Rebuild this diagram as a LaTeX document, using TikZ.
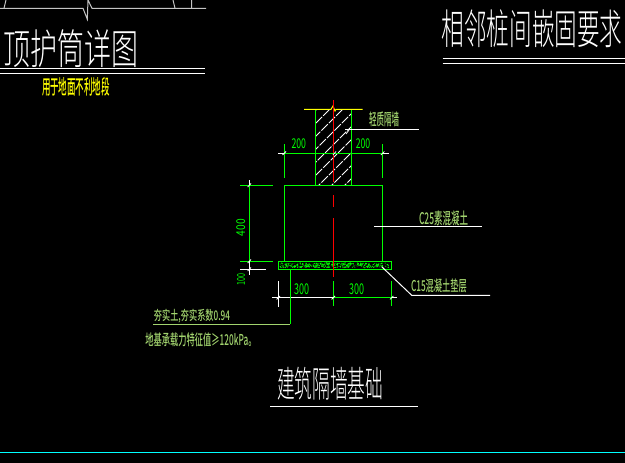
\documentclass[tikz,border=0pt]{standalone}
\usepackage{fontspec}
\newfontfamily\cjkbig{Noto Sans CJK SC Light}
\newfontfamily\cjk{Noto Sans CJK SC Medium}
\newfontfamily\cjknum{Noto Sans CJK SC}
\usetikzlibrary{calc}
\definecolor{cadgreen}{HTML}{00FF00}
\definecolor{paletext}{HTML}{A2D46E}
\definecolor{cadgrey}{HTML}{C4C4C4}
\definecolor{cadyellow}{HTML}{FFFF00}
\definecolor{cadcyan}{HTML}{00FFFF}
\definecolor{cadred}{HTML}{FF0000}
\newcommand{\fit}[3]{\resizebox*{#1pt}{#2pt}{\cjk #3}}
\newcommand{\fitnum}[3]{\resizebox*{#1pt}{#2pt}{\cjknum #3}}
\newcommand{\fitbig}[3]{\resizebox*{#1pt}{#2pt}{\cjkbig #3}}
\tikzset{
  lbl/.style={inner sep=0pt,outer sep=0pt,anchor=center},
  gl/.style={cadgreen,line width=1pt},
  wl/.style={white,line width=1pt},
  tick/.style={white,line width=.8pt},
}
\begin{document}
\begin{tikzpicture}[x=1pt,y=-1pt]
\fill[black] (0,0) rectangle (625,463);
\useasboundingbox (0,0) rectangle (625,463);
% top-left sheet fragment
\draw[cadgrey,line width=1pt] (0,8.3) -- (83,8.3) -- (87.3,19.3) -- (88,0) -- (92,8.3) -- (206,8.3);
\draw[cadgrey,line width=1pt] (6,0) -- (4,8.3) (173,0) -- (175,8.3) (191.7,0) -- (191.7,8.3);
% titles
\node[lbl,white] (t1) at (71,49) {\fitbig{135}{38}{顶护筒详图}};
\draw[wl] (0,68.3) -- (205,68.3) (0,73.3) -- (205,73.3);
\node[lbl,cadyellow] (t2) at (76,86.5) {\fit{68}{19}{用于地面不利地段}};
\node[lbl,white] (t3) at (532,29) {\fitbig{181}{38}{相邻桩间嵌固要求}};
\draw[wl] (442.7,58.3) -- (625,58.3) (442.7,63.3) -- (625,63.3);
% wall hatch
\begin{scope}
\clip (315.3,109.3) rectangle (351.3,185.3);
\foreach \k in {0,...,9}{
  \draw[white,line width=.8pt,dash pattern=on 9pt off 1.5pt] ($(236+\k*13,190)$) -- ++(110,-110);
}
\end{scope}
% wall and footing
\draw[gl] (315.3,109.3) -- (315.3,185.3) (351.3,109.3) -- (351.3,185.3);
\draw[cadyellow,line width=1pt] (304,109.3) -- (331,109.3) -- (333,106) -- (335,111) -- (336,109.3) -- (362.7,109.3);
\draw[gl] (284.3,261.3) -- (284.3,185.3) -- (382.7,185.3) -- (382.7,261.3);
% pad
\pgfmathsetseed{7}
\foreach \i in {1,...,330}{
  \pgfmathsetmacro{\px}{280+109*rnd}
  \pgfmathsetmacro{\py}{263+4.6*rnd}
  \pgfmathsetmacro{\dx}{2.4*rnd-1.2}
  \pgfmathsetmacro{\dy}{1.6*rnd-.8}
  \draw[cadgreen,line width=.9pt] (\px,\py) -- ++(\dx,\dy);
}
\draw[gl] (278.3,261.3) rectangle (391.7,269.3);
% centre line
\draw[cadred,line width=1pt] (333.3,100) -- (333.3,182) (333.3,195) -- (333.3,207) (333.3,218) -- (333.3,277);
% top dimension
\draw[gl] (284.3,144) -- (284.3,178) (382.7,144) -- (382.7,178) (284.3,153.3) -- (382.7,153.3);
\draw[wl] (278,153.3) -- (284.3,153.3) (382.7,153.3) -- (389,153.3);
\draw[tick] (282.5,155) -- (286,151.5) (380.9,155) -- (384.4,151.5) (333,155) -- (336,151.5);
\node[lbl,cadgreen] (d1) at (298.8,144) {\fitnum{14.5}{10}{200}};
\node[lbl,cadgreen] (d2) at (363,144) {\fitnum{14.5}{10}{200}};
% wall label
\node[lbl,paletext] (l1) at (384,119.3) {\fit{30}{15}{轻质隔墙}};
\draw[wl] (345,129.3) -- (419,129.3);
\draw[tick] (346,134) -- (349,130);
% left dimension
\draw[gl] (240,185.3) -- (272.7,185.3) (240,261.3) -- (272.7,261.3) (249.3,185.3) -- (249.3,261.3);
\draw[wl] (240,269.3) -- (266,269.3) (249.3,180) -- (249.3,185.3) (249.3,261.3) -- (249.3,275);
\draw[tick] (247.7,187) -- (251,183.5) (247.7,263) -- (251,259.5) (247.7,271) -- (251,267.5);
\node[lbl,cadgreen,rotate=90] (d3) at (240.7,227.5) {\fitnum{17}{9}{400}};
\node[lbl,cadgreen,rotate=90] (d4) at (241,279.5) {\fitnum{12}{8}{100}};
% bottom dimension
\draw[wl] (272,297.7) -- (333.3,297.7) (278.3,281) -- (278.3,306.7) (391.7,297.7) -- (396.7,297.7);
\draw[gl] (333.3,297.7) -- (391.7,297.7) (333.3,281) -- (333.3,306) (391.7,281) -- (391.7,306);
\draw[tick] (276.6,299.4) -- (280,296) (331.6,299.4) -- (335,296) (390,299.4) -- (393.4,296);
\node[lbl,cadgreen] (d5) at (301.7,289) {\fitnum{15}{11}{300}};
\node[lbl,cadgreen] (d6) at (356.7,289) {\fitnum{15}{11}{300}};
% C25 / C15 labels
\node[lbl,paletext] (l2) at (443.5,218) {\fit{49}{15}{C25素混凝土}};
\draw[wl] (374,226) -- (481.7,226);
\node[lbl,paletext] (l3) at (439,286) {\fit{56}{14}{C15混凝土垫层}};
\draw[wl] (381.7,266.7) -- (411.7,295.3) -- (490,295.3);
% leader
\draw[gl] (290.3,269.3) -- (290.3,324.3);
\draw[paletext,line width=1pt] (153.3,324.3) -- (290.3,324.3);
\node[lbl,paletext] (l4) at (192,316) {\fit{76}{14}{夯实土,夯实系数0.94}};
\node[lbl,paletext] (l5) at (201,340) {\fit{111}{14}{地基承载力特征值≥120kPa。}};
% drawing title
\node[lbl,white] (t4) at (330,384) {\fitbig{106}{33}{建筑隔墙基础}};
\draw[wl] (270,406.7) -- (417.7,406.7);
\draw[cadcyan,line width=1pt] (0,452.3) -- (625,452.3);
\end{tikzpicture}
\end{document}
